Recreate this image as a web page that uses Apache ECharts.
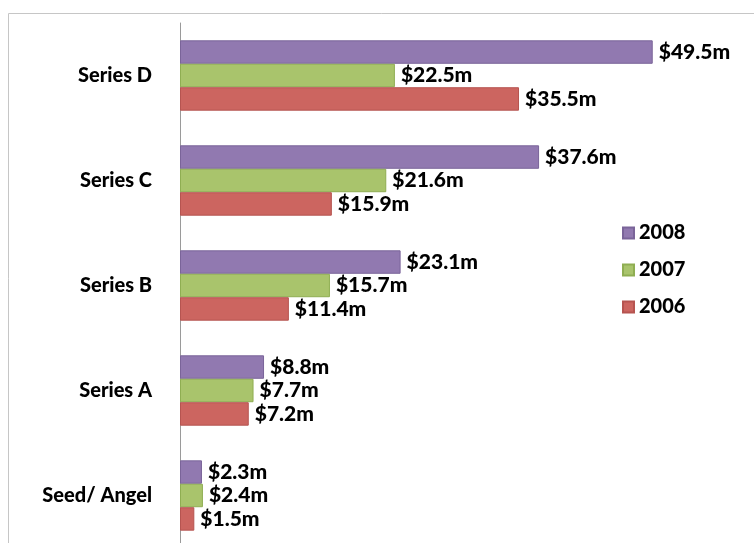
<!DOCTYPE html>
<html>
<head>
<meta charset="utf-8">
<script src="https://cdn.jsdelivr.net/npm/echarts@6/dist/echarts.min.js"></script>
<style>
  html, body { margin: 0; padding: 0; background: #fff; }
  #chart { width: 754px; height: 543px; }
</style>
</head>
<body>
<div id="chart"></div>
<script>
// funding rounds, bottom to top
let categories = ["Seed/ Angel", "Series A", "Series B", "Series C", "Series D"];
let years = ["2008", "2007", "2006"];

// values in $m per year
let values2006 = [1.5, 7.2, 11.4, 15.9, 35.5];
let values2007 = [2.4, 7.7, 15.7, 21.6, 22.5];
let values2008 = [2.3, 8.8, 23.1, 37.6, 49.5];

let colors = { "2008": "#9179b0", "2007": "#a9c46c", "2006": "#cc6560" };
let borders = { "2008": "#7a6499", "2007": "#8fae52", "2006": "#b65450" };

let chartDom = document.getElementById("chart");
let chart = echarts.init(chartDom);

let font = "Lato, 'Liberation Sans', sans-serif";

function makeSeries(name, data) {
    return {
        name: name,
        type: "bar",
        data: data,
        barGap: "0%",
        barCategoryGap: "33%",
        itemStyle: { color: colors[name], borderColor: borders[name], borderWidth: 1 },
        label: {
            show: true,
            position: "right",
            distance: 6,
            formatter: p => "$" + p.value + "m",
            color: "#000",
            fontWeight: 900,
            fontSize: 21,
            fontFamily: font
        },
        emphasis: { disabled: true }
    };
}

let option = {
    animation: false,
    graphic: [{
        type: "rect",
        shape: { x: 8.5, y: 13.5, width: 760, height: 560 },
        style: { fill: "none", stroke: "#c6c6c6", lineWidth: 1 },
        silent: true
    }],
    // chart runs past the bottom edge, like the original crop
    grid: { left: 180, top: 23, width: 573, height: 525, outerBoundsMode: "none", containLabel: false },
    legend: {
        orient: "vertical",
        left: 617,
        top: 218,
        itemWidth: 11,
        itemHeight: 11,
        itemGap: 17,
        data: years,
        icon: "rect",
        textStyle: { fontSize: 20, fontWeight: 900, color: "#000", fontFamily: font }
    },
    xAxis: {
        type: "value",
        min: 0,
        max: 60,
        show: false
    },
    yAxis: {
        type: "category",
        data: categories,
        axisLine: { show: true, lineStyle: { color: "#9a9a9a", width: 1 } },
        axisTick: { show: false },
        axisLabel: { margin: 28, fontSize: 20, fontWeight: 900, color: "#000", fontFamily: font }
    },
    // first series sits at the top of each band
    series: [
        makeSeries("2008", values2008),
        makeSeries("2007", values2007),
        makeSeries("2006", values2006)
    ]
};

chart.setOption(option);
</script>
</body>
</html>
